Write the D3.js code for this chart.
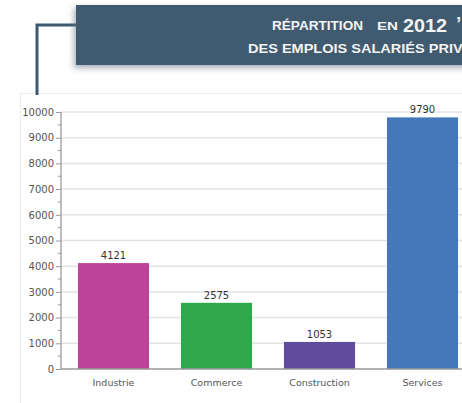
<!DOCTYPE html>
<html>
<head>
<meta charset="utf-8">
<script src="https://cdn.jsdelivr.net/npm/d3@7"></script>
<style>
  html, body { margin: 0; padding: 0; background: #ffffff; }
  svg { display: block; }
</style>
</head>
<body>
<svg id="chart" width="462" height="403"></svg>
<script>
// Salaried private-sector jobs by sector, 2012
const categories = ["Industrie", "Commerce", "Construction", "Services"];
const values = [4121, 2575, 1053, 9790];
const barColors = ["#bd4398", "#2fa84b", "#604c9c", "#4577bb"];
const yTicks = [0, 1000, 2000, 3000, 4000, 5000, 6000, 7000, 8000, 9000, 10000];
const titleLine1 = ["RÉPARTITION", "EN", "2012", "’"];
const titleLine2 = "DES EMPLOIS SALARIÉS PRIVÉS";

const svg = d3.select("#chart");
const banner = "#3f5a70";

// drop shadow for the title banner
const defs = svg.append("defs");
const f = defs.append("filter").attr("id", "shadow")
  .attr("x", "-10%").attr("y", "-40%").attr("width", "120%").attr("height", "180%");
f.append("feDropShadow").attr("dx", -2).attr("dy", 3).attr("stdDeviation", 3)
  .attr("flood-color", "#5a6a80").attr("flood-opacity", 0.55);

// chart panel
svg.append("rect").attr("x", 20.5).attr("y", 93.5).attr("width", 460).attr("height", 320)
  .attr("fill", "#ffffff").attr("stroke", "#ececec").attr("stroke-width", 1);

// connector line from the banner down to the panel
svg.append("path").attr("d", "M37,95 V25 H78")
  .attr("fill", "none").attr("stroke", banner).attr("stroke-width", 3);

// title banner
svg.append("rect").attr("x", 76).attr("y", 5).attr("width", 400).attr("height", 60)
  .attr("fill", banner).attr("filter", "url(#shadow)");

const tFont = "'Liberation Sans', Arial, sans-serif";
const t1 = svg.append("g").attr("fill", "#f4f4f4").attr("font-family", tFont);
t1.append("text").attr("x", 272).attr("y", 30).attr("font-size", 13.5).attr("font-weight", 600)
  .attr("textLength", 91).attr("lengthAdjust", "spacingAndGlyphs").text(titleLine1[0]);
t1.append("text").attr("x", 377).attr("y", 30).attr("font-size", 11.5).attr("font-weight", 600)
  .attr("textLength", 21).attr("lengthAdjust", "spacingAndGlyphs").text(titleLine1[1]);
t1.append("text").attr("x", 403).attr("y", 31.5).attr("font-size", 19).attr("font-weight", 700)
  .attr("textLength", 44).attr("lengthAdjust", "spacingAndGlyphs").text(titleLine1[2]);
t1.append("text").attr("x", 456).attr("y", 30).attr("font-size", 19).attr("font-weight", 700)
  .text(titleLine1[3]);
t1.append("text").attr("x", 248).attr("y", 52.5).attr("font-size", 12.5).attr("font-weight", 600)
  .attr("textLength", 234).attr("lengthAdjust", "spacingAndGlyphs").text(titleLine2);

// scales
const x = d3.scaleBand().domain(categories).range([62, 474]).paddingInner(0.31).paddingOuter(0.155);
const y = d3.scaleLinear().domain([0, 10000]).range([369, 112]);

const font = "'DejaVu Sans', Verdana, sans-serif";

// horizontal gridlines
svg.append("g").selectAll("line").data(yTicks.filter(d => d > 0)).join("line")
  .attr("x1", 61).attr("x2", 462)
  .attr("y1", d => y(d)).attr("y2", d => y(d))
  .attr("stroke", "#e3e3e3").attr("stroke-width", 1.5);

// bars
svg.append("g").selectAll("rect").data(values).join("rect")
  .attr("x", (d, i) => x(categories[i]))
  .attr("y", d => y(d))
  .attr("width", x.bandwidth())
  .attr("height", d => y(0) - y(d))
  .attr("fill", (d, i) => barColors[i]);

// value labels
svg.append("g").selectAll("text").data(values).join("text")
  .attr("x", (d, i) => x(categories[i]) + x.bandwidth() / 2)
  .attr("y", d => y(d) - 4)
  .attr("text-anchor", "middle")
  .attr("font-family", font).attr("font-size", 10).attr("fill", "#333")
  .text(d => d);

// y axis
const yAxis = d3.axisLeft(y).tickValues(yTicks).tickSize(5).tickPadding(2).tickFormat(d3.format("d"));
const gy = svg.append("g").attr("transform", "translate(61,0)").call(yAxis);
gy.select(".domain").attr("stroke", "#aaaaaa").attr("stroke-width", 1.5).attr("d", "M0,112V369");
gy.selectAll(".tick line").attr("stroke", "#999");
gy.selectAll(".tick text").attr("font-family", font).attr("font-size", 10).attr("fill", "#555");

// minor ticks
const minor = d3.range(500, 10000, 1000);
gy.append("g").selectAll("line").data(minor).join("line")
  .attr("x1", -3).attr("x2", 0).attr("y1", d => y(d)).attr("y2", d => y(d))
  .attr("stroke", "#999");

// x axis
const xAxis = d3.axisBottom(x).tickSize(0).tickPadding(10);
const gx = svg.append("g").attr("transform", "translate(0,369)").call(xAxis);
gx.select(".domain").attr("stroke", "#999").attr("stroke-width", 1.5).attr("d", "M61,0H462");
gx.selectAll(".tick text").attr("font-family", font).attr("font-size", 9.5).attr("fill", "#555");
</script>
</body>
</html>
